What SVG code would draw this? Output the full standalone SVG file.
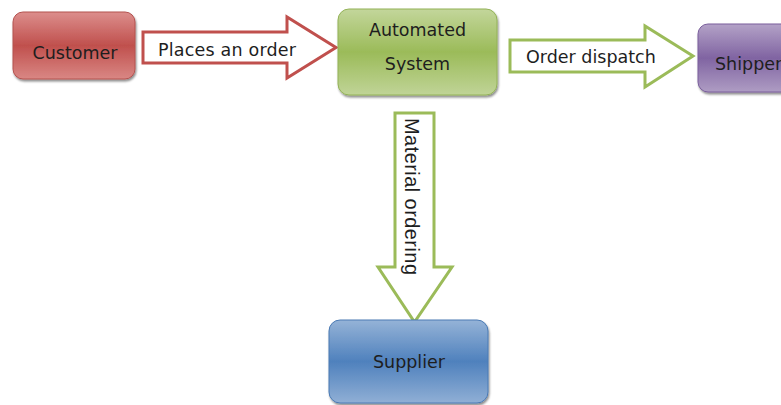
<svg xmlns="http://www.w3.org/2000/svg" width="781" height="405" viewBox="0 0 781 405">
  <style>
    .lbl { font-family: "DejaVu Sans", Verdana, sans-serif; font-size: 17.5px; fill: #1e1e1e; }
    .vlbl { font-family: "Liberation Sans", Arial, sans-serif; font-size: 20px; fill: #1e1e1e; }
    .box { filter: url(#shadow); stroke-width: 1; }
    .arrow { fill: #ffffff; stroke-width: 3; stroke-linejoin: miter; }
  </style>
  <defs>
    <filter id="shadow" x="-10%" y="-10%" width="125%" height="130%">
      <feDropShadow dx="1" dy="2" stdDeviation="1.2" flood-color="#000" flood-opacity="0.45"/>
    </filter>
    <linearGradient id="gRed" x1="0" y1="0" x2="0" y2="1">
      <stop offset="0" stop-color="#dc8e8c"/>
      <stop offset="0.5" stop-color="#c0504d"/>
      <stop offset="1" stop-color="#d98784"/>
    </linearGradient>
    <linearGradient id="gGreen" x1="0" y1="0" x2="0" y2="1">
      <stop offset="0" stop-color="#c3d69b"/>
      <stop offset="0.5" stop-color="#9bbb59"/>
      <stop offset="1" stop-color="#c0d497"/>
    </linearGradient>
    <linearGradient id="gPurple" x1="0" y1="0" x2="0" y2="1">
      <stop offset="0" stop-color="#b3a2c7"/>
      <stop offset="0.5" stop-color="#8064a2"/>
      <stop offset="1" stop-color="#ae9cc3"/>
    </linearGradient>
    <linearGradient id="gBlue" x1="0" y1="0" x2="0" y2="1">
      <stop offset="0" stop-color="#95b3d7"/>
      <stop offset="0.5" stop-color="#4f81bd"/>
      <stop offset="1" stop-color="#90afd5"/>
    </linearGradient>
  </defs>

  <!-- block arrows -->
  <g id="connectors">
    <g id="edge-customer-system">
      <polygon class="arrow" stroke="#c0504d" points="143,32 287,32 287,17 336,47.5 287,78 287,63 143,63"/>
      <text class="lbl" x="158" y="56" textLength="138">Places an order</text>
    </g>
    <g id="edge-system-shipper">
      <polygon class="arrow" stroke="#9bbb59" points="510,40 645,40 645,26 693,56 645,87 645,72 510,72"/>
      <text class="lbl" x="526" y="63">Order dispatch</text>
    </g>
    <g id="edge-system-supplier">
      <polygon class="arrow" stroke="#9bbb59" points="395,113 434,113 434,267 452,267 414.5,322 378,267 395,267"/>
      <text class="vlbl" transform="translate(405,118) rotate(90)" x="0" y="0" textLength="157">Material ordering</text>
    </g>
  </g>

  <!-- nodes -->
  <g id="customer">
    <rect class="box" x="13" y="12" width="122" height="67" rx="10" fill="url(#gRed)" stroke="#b4524f"/>
    <text class="lbl" x="75" y="59" text-anchor="middle">Customer</text>
  </g>
  <g id="automated-system">
    <rect class="box" x="338" y="9" width="159" height="86" rx="11" fill="url(#gGreen)" stroke="#93b257"/>
    <text class="lbl" x="417.5" y="36" text-anchor="middle">Automated</text>
    <text class="lbl" x="417.5" y="70" text-anchor="middle">System</text>
  </g>
  <g id="shipper">
    <rect class="box" x="698" y="24" width="110" height="68" rx="10" fill="url(#gPurple)" stroke="#7a5f9c"/>
    <text class="lbl" x="715" y="70">Shipper</text>
  </g>
  <g id="supplier">
    <rect class="box" x="329" y="320" width="159" height="83" rx="11" fill="url(#gBlue)" stroke="#4a7ab4"/>
    <text class="lbl" x="409" y="368" text-anchor="middle">Supplier</text>
  </g>
</svg>
